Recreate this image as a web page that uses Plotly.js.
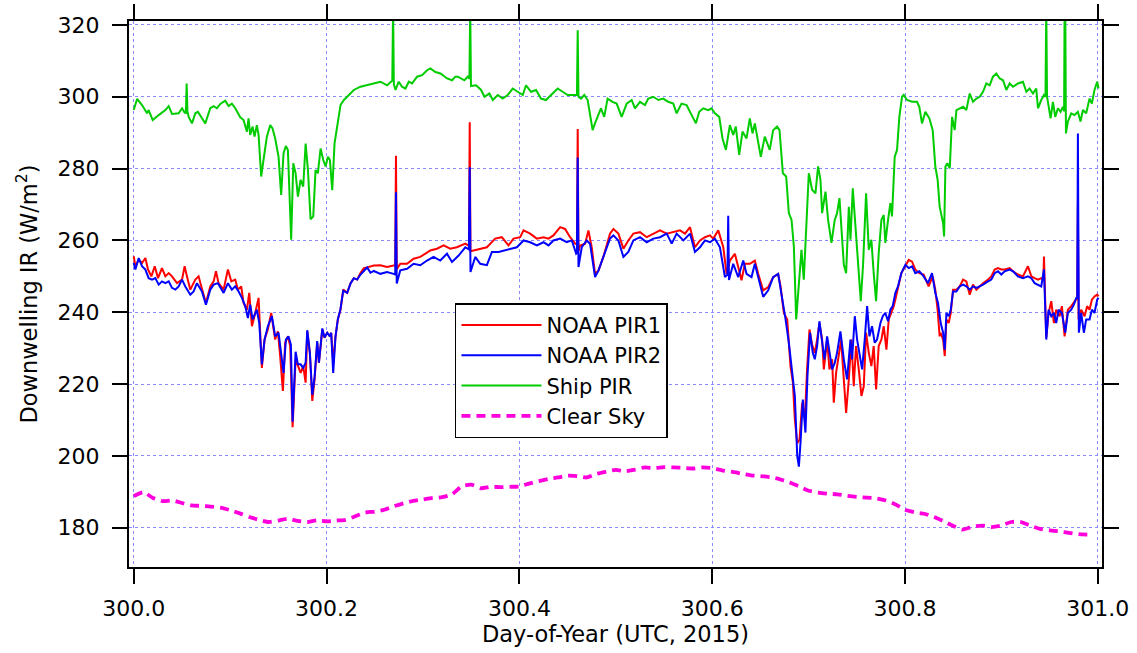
<!DOCTYPE html>
<html>
<head>
<meta charset="utf-8">
<script src="https://cdn.plot.ly/plotly-3.0.1.min.js"></script>
<style>
  html, body { margin: 0; padding: 0; background: #fff; }
  #chart { width: 1137px; height: 653px; }
</style>
</head>
<body>
<div id="chart"></div>
<script>
// Downwelling longwave irradiance, day 300 of 2015 (UTC)

// NOAA PIR1
const pir1Day = [300.0000,300.0017,300.0052,300.0086,300.0121,300.0148,300.0183,300.0218,300.0252,300.0293,300.0328,300.0363,300.0397,300.0449,300.0501,300.0528,300.0552,300.0587,300.0639,300.0673,300.0701,300.0749,300.0794,300.0829,300.0853,300.0880,300.0932,300.0977,300.1012,300.1053,300.1081,300.1115,300.1139,300.1174,300.1198,300.1226,300.1260,300.1295,300.1329,300.1357,300.1391,300.1426,300.1467,300.1495,300.1519,300.1547,300.1571,300.1599,300.1623,300.1648,300.1679,300.1703,300.1731,300.1758,300.1783,300.1800,300.1827,300.1852,300.1876,300.1903,300.1921,300.1956,300.1979,300.2007,300.2035,300.2048,300.2069,300.2093,300.2117,300.2145,300.2173,300.2214,300.2249,300.2283,300.2318,300.2352,300.2387,300.2421,300.2456,300.2490,300.2558,300.2627,300.2696,300.2712,300.2720,300.2728,300.2765,300.2835,300.2903,300.2972,300.3076,300.3145,300.3214,300.3283,300.3352,300.3439,300.3477,300.3485,300.3493,300.3525,300.3594,300.3663,300.3749,300.3818,300.3887,300.3939,300.4008,300.4043,300.4112,300.4181,300.4250,300.4302,300.4353,300.4423,300.4474,300.4526,300.4578,300.4597,300.4605,300.4613,300.4630,300.4682,300.4716,300.4750,300.4785,300.4820,300.4871,300.4940,300.4975,300.5027,300.5079,300.5130,300.5182,300.5251,300.5321,300.5390,300.5459,300.5528,300.5597,300.5666,300.5718,300.5770,300.5821,300.5873,300.5925,300.5977,300.6011,300.6063,300.6115,300.6149,300.6184,300.6235,300.6270,300.6304,300.6339,300.6391,300.6442,300.6477,300.6529,300.6581,300.6632,300.6684,300.6709,300.6743,300.6778,300.6812,300.6837,300.6857,300.6882,300.6906,300.6933,300.6961,300.6984,300.7009,300.7036,300.7064,300.7088,300.7112,300.7140,300.7158,300.7192,300.7216,300.7244,300.7261,300.7285,300.7313,300.7337,300.7365,300.7389,300.7417,300.7444,300.7468,300.7492,300.7520,300.7548,300.7572,300.7596,300.7624,300.7651,300.7675,300.7700,300.7727,300.7755,300.7779,300.7807,300.7831,300.7858,300.7883,300.7907,300.7934,300.7962,300.8003,300.8038,300.8073,300.8107,300.8148,300.8193,300.8245,300.8287,300.8314,300.8338,300.8359,300.8370,300.8395,300.8412,300.8429,300.8453,300.8474,300.8498,300.8533,300.8567,300.8602,300.8636,300.8671,300.8705,300.8740,300.8774,300.8809,300.8861,300.8895,300.8930,300.8964,300.8999,300.9033,300.9085,300.9120,300.9171,300.9223,300.9275,300.9310,300.9344,300.9379,300.9413,300.9435,300.9441,300.9455,300.9465,300.9489,300.9517,300.9544,300.9568,300.9603,300.9627,300.9655,300.9689,300.9724,300.9758,300.9786,300.9793,300.9800,300.9827,300.9862,300.9889,300.9914,300.9938,300.9965,300.9993,301.0007];
const pir1IR = [255.6,252.8,254.6,253.7,255.1,251.9,250.0,252.8,249.5,252.3,250.0,250.9,250.0,248.1,249.1,252.8,250.0,246.3,249.1,250.0,247.2,242.6,247.2,248.6,251.4,248.1,246.3,251.9,248.6,249.1,246.3,247.2,242.6,240.7,245.4,236.1,239.8,244.0,224.5,232.4,235.2,239.8,232.4,234.7,227.8,218.1,231.5,233.3,230.6,208.0,226.9,225.0,223.1,225.0,220.4,234.7,228.7,215.3,221.3,231.5,225.9,235.2,232.9,234.3,233.3,234.3,225.9,233.3,238.0,240.7,246.3,245.4,248.1,249.5,249.1,250.9,252.3,252.5,252.8,253.0,253.1,252.6,253.0,253.0,283.6,252.0,253.5,253.5,254.9,255.4,257.2,257.7,258.6,257.7,258.1,259.1,258.5,292.9,257.0,257.2,257.7,258.1,260.5,260.9,258.6,260.5,260.9,262.8,261.9,260.5,260.9,260.5,261.4,263.7,263.2,260.9,259.1,259.0,291.0,257.0,258.6,259.1,262.8,258.1,250.7,251.6,255.4,261.9,263.2,261.9,257.7,260.0,261.9,262.3,260.9,261.9,262.8,261.9,262.3,262.8,261.9,263.7,258.1,260.0,260.9,261.4,260.5,262.8,258.1,250.7,254.4,256.3,252.6,248.9,253.5,253.5,254.4,250.7,246.1,247.0,249.8,250.7,247.2,239.8,238.0,225.0,220.4,210.2,203.5,204.6,214.8,210.2,224.1,235.2,231.0,228.7,232.4,237.0,232.4,224.1,232.4,224.1,226.9,214.8,223.1,228.7,232.4,221.3,212.0,221.3,232.4,219.4,230.6,224.1,216.7,219.4,234.3,228.7,225.0,230.6,218.5,230.6,232.4,236.1,229.6,238.0,239.8,241.7,244.4,248.1,250.9,252.8,254.6,254.1,251.9,250.9,250.5,247.2,250.0,246.3,240.7,233.3,234.3,232.4,227.8,238.0,237.0,239.8,246.3,246.3,247.2,249.1,248.6,244.9,247.7,246.3,247.2,248.1,249.1,250.0,251.9,252.3,251.9,251.9,252.3,251.4,250.5,250.0,252.8,250.0,249.5,249.1,249.5,249.0,255.5,240.7,232.9,239.8,243.1,237.0,240.7,238.9,241.7,233.3,240.7,241.7,243.1,244.0,270.0,238.0,240.7,238.9,241.7,240.7,243.5,244.4,244.9,244.4];

// NOAA PIR2
const pir2Day = [300.0000,300.0017,300.0052,300.0086,300.0121,300.0155,300.0190,300.0224,300.0259,300.0293,300.0328,300.0363,300.0397,300.0432,300.0466,300.0501,300.0535,300.0587,300.0621,300.0656,300.0708,300.0749,300.0794,300.0829,300.0873,300.0932,300.0977,300.1018,300.1053,300.1088,300.1122,300.1157,300.1184,300.1208,300.1233,300.1277,300.1302,300.1329,300.1357,300.1391,300.1433,300.1467,300.1502,300.1529,300.1554,300.1578,300.1605,300.1630,300.1648,300.1679,300.1703,300.1731,300.1758,300.1783,300.1800,300.1827,300.1852,300.1876,300.1903,300.1921,300.1956,300.1979,300.2007,300.2035,300.2048,300.2069,300.2093,300.2117,300.2145,300.2173,300.2214,300.2249,300.2283,300.2318,300.2352,300.2387,300.2421,300.2456,300.2490,300.2558,300.2627,300.2696,300.2712,300.2720,300.2728,300.2765,300.2835,300.2903,300.2972,300.3042,300.3110,300.3179,300.3249,300.3301,300.3370,300.3439,300.3477,300.3485,300.3493,300.3542,300.3594,300.3663,300.3715,300.3784,300.3853,300.3922,300.3974,300.4043,300.4112,300.4181,300.4250,300.4302,300.4353,300.4423,300.4491,300.4544,300.4589,300.4597,300.4605,300.4613,300.4647,300.4699,300.4733,300.4785,300.4820,300.4871,300.4940,300.4975,300.5027,300.5079,300.5130,300.5182,300.5251,300.5321,300.5390,300.5459,300.5528,300.5580,300.5631,300.5701,300.5770,300.5821,300.5873,300.5925,300.5977,300.6028,300.6080,300.6132,300.6158,300.6166,300.6174,300.6218,300.6270,300.6322,300.6356,300.6408,300.6442,300.6477,300.6529,300.6581,300.6632,300.6684,300.6726,300.6761,300.6795,300.6830,300.6857,300.6882,300.6899,300.6916,300.6940,300.6967,300.6988,300.7015,300.7043,300.7064,300.7088,300.7112,300.7140,300.7164,300.7192,300.7216,300.7244,300.7271,300.7295,300.7330,300.7365,300.7399,300.7434,300.7451,300.7479,300.7503,300.7527,300.7555,300.7582,300.7607,300.7631,300.7658,300.7686,300.7710,300.7745,300.7769,300.7796,300.7824,300.7848,300.7872,300.7900,300.7927,300.7962,300.8003,300.8038,300.8073,300.8107,300.8148,300.8193,300.8238,300.8280,300.8314,300.8342,300.8359,300.8370,300.8395,300.8412,300.8429,300.8453,300.8474,300.8498,300.8533,300.8567,300.8602,300.8636,300.8671,300.8705,300.8740,300.8774,300.8809,300.8861,300.8895,300.8930,300.8964,300.8999,300.9033,300.9085,300.9120,300.9171,300.9223,300.9275,300.9310,300.9344,300.9379,300.9413,300.9441,300.9455,300.9465,300.9489,300.9517,300.9544,300.9568,300.9593,300.9627,300.9662,300.9689,300.9724,300.9751,300.9776,300.9786,300.9793,300.9803,300.9827,300.9855,300.9879,300.9914,300.9938,300.9965,300.9993,301.0007];
const pir2IR = [253.7,251.9,255.1,252.8,251.9,249.5,249.1,249.5,247.7,248.6,248.1,248.6,246.8,246.3,247.2,249.1,247.2,244.9,245.8,248.1,245.8,242.1,246.3,247.7,248.1,245.4,248.1,246.3,247.2,245.8,244.0,241.7,238.4,242.1,238.0,240.7,237.0,225.5,232.4,236.1,238.9,233.3,234.3,227.8,223.1,232.4,233.3,231.0,209.5,229.0,225.5,225.5,224.5,226.0,235.0,228.7,217.0,222.0,232.0,226.0,235.5,233.0,234.3,233.3,234.3,223.1,233.3,238.0,241.0,246.0,245.4,248.0,249.5,249.1,250.5,251.5,252.5,251.0,251.5,250.7,251.2,250.7,250.5,273.4,248.0,251.7,252.1,253.5,253.1,254.4,255.4,254.4,256.3,254.0,255.8,258.1,257.5,280.4,251.2,255.4,253.5,253.1,256.8,256.8,257.2,257.7,258.1,260.0,259.5,258.6,259.5,258.6,260.0,260.5,259.5,260.0,256.3,256.5,283.1,252.6,258.1,260.0,259.1,249.8,251.6,255.4,260.5,261.4,260.0,255.4,256.8,260.0,260.9,259.5,260.5,260.9,261.9,259.1,261.9,260.0,261.9,256.8,258.1,260.0,259.5,260.5,258.1,249.8,250.5,266.9,249.0,253.5,249.8,254.4,250.7,249.8,253.5,249.8,244.3,246.1,249.8,250.7,244.4,238.0,231.5,222.2,216.7,200.0,197.0,203.7,215.7,206.5,222.2,234.3,228.7,226.9,230.6,237.5,232.4,226.9,233.3,229.6,224.1,225.9,228.7,234.7,226.9,221.3,232.4,226.9,238.9,232.4,228.7,224.1,232.4,241.7,233.3,236.1,231.5,232.4,237.0,238.9,239.8,237.5,240.7,241.7,245.4,247.2,250.9,253.2,252.3,252.8,250.9,251.4,250.0,248.1,250.9,245.4,242.6,239.8,237.0,234.3,229.6,239.8,238.9,240.7,245.8,245.8,247.2,247.7,247.2,246.3,247.2,246.8,247.2,247.7,248.6,249.1,250.9,251.4,250.5,251.4,251.9,251.4,250.0,249.5,250.0,249.5,248.1,247.7,247.2,251.9,238.0,232.4,240.7,238.9,239.8,237.0,240.7,239.8,234.3,239.8,240.7,242.1,244.0,244.0,289.8,234.3,239.8,234.3,238.0,238.0,240.7,239.8,243.5,244.0];

// Ship PIR
const shipDay = [300.0000,300.0035,300.0086,300.0138,300.0155,300.0197,300.0259,300.0328,300.0363,300.0397,300.0466,300.0501,300.0528,300.0541,300.0549,300.0557,300.0570,300.0604,300.0639,300.0666,300.0708,300.0742,300.0794,300.0829,300.0863,300.0898,300.0949,300.0984,300.1018,300.1053,300.1105,300.1139,300.1174,300.1191,300.1208,300.1233,300.1253,300.1277,300.1295,300.1322,300.1346,300.1381,300.1416,300.1440,300.1467,300.1502,300.1529,300.1554,300.1578,300.1599,300.1633,300.1655,300.1679,300.1703,300.1731,300.1758,300.1783,300.1807,300.1834,300.1862,300.1886,300.1910,300.1938,300.1966,300.1990,300.2014,300.2035,300.2059,300.2083,300.2110,300.2145,300.2180,300.2231,300.2283,300.2352,300.2421,300.2490,300.2559,300.2628,300.2663,300.2682,300.2690,300.2698,300.2715,300.2749,300.2783,300.2818,300.2853,300.2887,300.2939,300.2991,300.3043,300.3077,300.3129,300.3181,300.3250,300.3302,300.3336,300.3361,300.3430,300.3465,300.3482,300.3490,300.3498,300.3551,300.3603,300.3638,300.3689,300.3724,300.3776,300.3827,300.3879,300.3931,300.3983,300.4035,300.4069,300.4121,300.4173,300.4224,300.4276,300.4328,300.4397,300.4449,300.4501,300.4552,300.4597,300.4605,300.4613,300.4640,300.4673,300.4708,300.4735,300.4760,300.4784,300.4811,300.4846,300.4880,300.4915,300.4967,300.5009,300.5061,300.5113,300.5165,300.5199,300.5251,300.5303,300.5337,300.5389,300.5441,300.5492,300.5544,300.5596,300.5631,300.5682,300.5734,300.5786,300.5831,300.5865,300.5907,300.5959,300.5993,300.6028,300.6073,300.6107,300.6142,300.6183,300.6218,300.6245,300.6280,300.6314,300.6356,300.6390,300.6418,300.6442,300.6466,300.6504,300.6545,300.6597,300.6632,300.6673,300.6698,300.6733,300.6767,300.6795,300.6823,300.6847,300.6871,300.6899,300.6926,300.6950,300.6974,300.7002,300.7036,300.7071,300.7098,300.7123,300.7140,300.7175,300.7202,300.7237,300.7271,300.7295,300.7320,300.7347,300.7365,300.7389,300.7417,300.7434,300.7458,300.7486,300.7513,300.7541,300.7565,300.7596,300.7624,300.7651,300.7675,300.7700,300.7727,300.7755,300.7779,300.7796,300.7824,300.7848,300.7865,300.7893,300.7917,300.7941,300.7969,300.7986,300.8021,300.8073,300.8124,300.8148,300.8176,300.8211,300.8252,300.8287,300.8314,300.8338,300.8359,300.8395,300.8405,300.8419,300.8439,300.8464,300.8488,300.8515,300.8533,300.8567,300.8602,300.8636,300.8671,300.8705,300.8740,300.8774,300.8809,300.8843,300.8878,300.8912,300.8947,300.8982,300.9016,300.9051,300.9085,300.9120,300.9171,300.9223,300.9258,300.9292,300.9327,300.9361,300.9379,300.9413,300.9441,300.9457,300.9465,300.9473,300.9510,300.9534,300.9558,300.9586,300.9613,300.9637,300.9650,300.9655,300.9662,300.9669,300.9689,300.9724,300.9758,300.9793,300.9820,300.9845,300.9879,300.9914,300.9938,300.9965,300.9993,301.0007];
const shipIR = [296.3,299.4,297.7,295.4,296.3,293.5,294.9,296.3,297.4,295.2,295.4,296.8,295.6,295.5,303.7,296.0,294.4,292.6,295.4,295.8,294.0,292.6,296.8,297.4,296.8,298.0,298.9,297.4,298.1,296.8,294.3,293.5,290.3,294.0,289.4,291.7,288.9,292.1,289.4,277.8,282.4,288.9,292.1,291.2,288.4,283.3,272.7,284.3,286.3,285.2,260.2,281.5,278.7,272.2,276.9,275.0,287.0,279.6,265.9,266.7,279.6,278.7,285.6,282.4,280.6,283.3,282.4,274.0,287.0,291.7,297.7,299.1,300.5,301.9,302.8,303.2,303.7,304.2,303.2,304.2,304.5,325.0,303.5,301.9,304.2,302.8,302.3,304.2,303.7,305.6,306.0,307.4,307.9,306.9,306.5,305.1,304.6,305.6,305.6,304.6,305.6,305.0,325.0,303.0,303.2,301.9,300.0,300.9,299.1,300.5,299.5,300.5,302.3,301.4,300.5,303.2,301.4,301.9,299.5,299.1,300.5,302.3,301.4,300.5,300.5,300.5,318.5,300.0,299.5,300.5,299.1,294.9,290.7,292.6,294.4,296.8,294.4,299.5,298.6,298.1,294.4,298.1,299.1,296.8,298.6,297.7,299.5,300.0,299.1,299.5,298.6,298.1,295.4,298.1,297.7,294.9,292.6,295.8,296.8,296.3,296.8,295.4,294.4,288.4,285.2,292.1,289.4,291.7,283.8,290.3,288.4,294.0,289.8,292.6,289.4,283.3,288.9,285.2,290.7,291.7,290.7,278.7,277.8,267.6,265.7,258.3,238.0,247.2,257.4,249.1,261.1,278.7,274.1,273.1,280.6,276.9,267.6,273.6,265.7,259.3,265.7,267.6,271.8,259.3,253.3,250.9,269.4,260.2,274.5,263.9,254.6,243.1,253.3,273.1,257.4,260.2,250.9,243.1,256.5,265.7,267.1,259.3,265.7,270.4,266.7,283.3,285.2,294.4,300.0,300.5,299.1,298.6,298.6,297.2,292.6,295.8,294.0,290.7,280.6,276.9,269.4,264.8,261.1,280.6,281.5,280.1,294.4,290.7,296.3,296.8,297.2,296.3,300.9,298.6,299.5,300.0,301.4,303.7,303.2,305.6,306.5,305.1,304.6,301.9,303.7,302.8,303.7,304.2,301.4,302.3,300.9,302.3,296.8,299.1,300.5,300.0,325.0,300.0,294.0,298.6,294.4,296.8,295.8,297.2,296.0,325.0,325.0,289.8,293.1,295.4,294.9,295.8,293.1,296.3,295.4,299.5,298.1,301.9,304.2,302.3];

// Clear-sky estimate
const clearDay = [300.00,300.01,300.02,300.03,300.04,300.05,300.06,300.07,300.08,300.09,300.10,300.11,300.12,300.13,300.14,300.15,300.16,300.17,300.18,300.19,300.20,300.21,300.22,300.23,300.24,300.25,300.26,300.27,300.28,300.29,300.30,300.31,300.32,300.33,300.34,300.35,300.36,300.37,300.38,300.39,300.40,300.41,300.42,300.43,300.44,300.45,300.46,300.47,300.48,300.49,300.50,300.51,300.52,300.53,300.54,300.55,300.56,300.57,300.58,300.59,300.60,300.61,300.62,300.63,300.64,300.65,300.66,300.67,300.68,300.69,300.70,300.71,300.72,300.73,300.74,300.75,300.76,300.77,300.78,300.79,300.80,300.81,300.82,300.83,300.84,300.85,300.86,300.87,300.88,300.89,300.90,300.91,300.92,300.93,300.94,300.95,300.96,300.97,300.98,300.99];
const clearIR = [188.8,189.9,188.3,187.4,187.6,186.9,186.2,186.1,185.9,185.6,184.9,184.0,183.0,182.2,181.6,182.0,182.5,181.9,181.6,182.1,181.8,182.0,182.2,183.2,184.2,184.5,185.0,186.0,186.8,187.5,187.9,188.3,188.5,189.3,191.5,192.0,191.0,191.4,191.3,191.4,191.5,192.3,193.0,193.6,194.0,194.5,194.4,194.0,195.0,195.6,196.1,195.7,196.2,196.8,196.6,196.9,196.8,196.7,196.5,196.8,196.6,196.0,195.6,195.1,194.6,194.4,194.1,193.5,192.6,191.5,190.3,189.8,189.5,189.3,188.9,188.6,188.4,188.2,187.6,186.5,185.0,184.3,183.9,183.0,181.8,180.5,179.5,180.3,180.6,180.2,180.6,181.6,181.6,180.6,179.7,179.3,179.0,178.6,178.2,178.1];

// Axis ticks
const xTickVals = [300.0, 300.2, 300.4, 300.6, 300.8, 301.0];
const xTickText = ['300.0', '300.2', '300.4', '300.6', '300.8', '301.0'];
const yTickVals = [180, 200, 220, 240, 260, 280, 300, 320];
const yTickText = ['180', '200', '220', '240', '260', '280', '300', '320'];

const FONT = 'DejaVu Sans, Verdana, sans-serif';

const traces = [
  { x: pir1Day, y: pir1IR, name: 'NOAA PIR1', mode: 'lines', legendgroup: 'a',
    line: { color: '#ff0000', width: 2 } },
  { x: pir2Day, y: pir2IR, name: 'NOAA PIR2', mode: 'lines', legendgroup: 'b',
    line: { color: '#0000ff', width: 2 } },
  { x: shipDay, y: shipIR, name: 'Ship PIR', mode: 'lines', legendgroup: 'c',
    line: { color: '#00cc00', width: 2 } },
  { x: clearDay, y: clearIR, name: 'Clear Sky', mode: 'lines', legendgroup: 'd',
    line: { color: '#ff00dd', width: 3.8, dash: '9px,6px', shape: 'spline', smoothing: 0.6 } }
];

const axisCommon = {
  showline: true, linewidth: 2, linecolor: '#000', mirror: 'ticks',
  ticks: 'outside', ticklen: 15, tickwidth: 2, tickcolor: '#000',
  showgrid: true, gridcolor: '#8a8aff', gridwidth: 1, griddash: 'dot',
  zeroline: false, tickfont: { family: FONT, size: 22, color: '#000' }
};

const layout = {
  width: 1137, height: 653,
  margin: { l: 129, r: 35, t: 21, b: 86 },
  paper_bgcolor: '#fff', plot_bgcolor: '#fff',
  font: { family: FONT, color: '#000' },
  showlegend: true,
  legend: {
    x: 0.335, y: 0.483, xanchor: 'left', yanchor: 'top',
    bgcolor: '#fff', bordercolor: '#000', borderwidth: 1.5,
    font: { family: FONT, size: 21, color: '#000' },
    itemwidth: 80, tracegroupgap: 2, traceorder: 'normal'
  },
  xaxis: Object.assign({}, axisCommon, {
    range: [299.9951, 301.0043],
    tickmode: 'array', tickvals: xTickVals, ticktext: xTickText,
    ticklabelstandoff: 6,
    title: { text: 'Day-of-Year (UTC, 2015)', font: { family: FONT, size: 22.5, color: '#000' }, standoff: 6 }
  }),
  yaxis: Object.assign({}, axisCommon, {
    range: [169.07, 321.1],
    tickmode: 'array', tickvals: yTickVals, ticktext: yTickText,
    ticklabelstandoff: 8,
    title: { text: 'Downwelling IR (W/m<sup>2</sup>)', font: { family: FONT, size: 22.5, color: '#000' }, standoff: 14 }
  })
};

Plotly.newPlot('chart', traces, layout, { displayModeBar: false, staticPlot: true });
</script>
</body>
</html>
